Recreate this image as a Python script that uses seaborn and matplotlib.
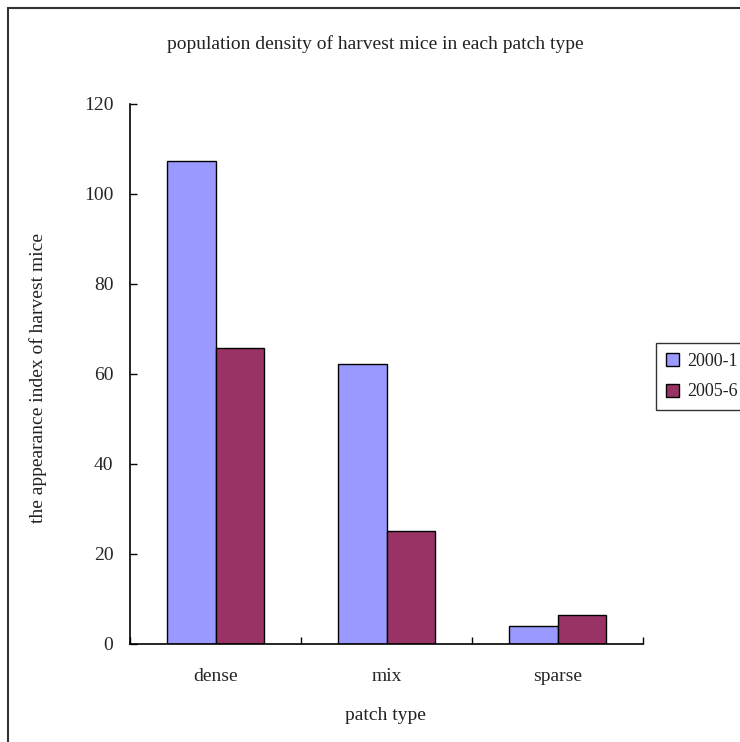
import numpy as np
import pandas as pd
import matplotlib
matplotlib.use("Agg")
import matplotlib.pyplot as plt
from matplotlib.patches import Rectangle
from matplotlib.ticker import FixedLocator
import seaborn as sns

# values
patch_types = ["dense", "mix", "sparse"]
years = ["2000-1", "2005-6"]
index_2000 = [107.3, 62.2, 4.0]
index_2005 = [65.7, 25.2, 6.5]
y_ticks = [0, 20, 40, 60, 80, 100, 120]
colors = ["#9999FF", "#993366"]

df = pd.DataFrame({
    "patch type": patch_types * 2,
    "index": index_2000 + index_2005,
    "year": [years[0]] * 3 + [years[1]] * 3,
})

sns.set_style("white")
plt.rcParams["font.family"] = ["Liberation Serif", "DejaVu Serif"]
plt.rcParams["text.color"] = "#222222"
fs = 14

fig = plt.figure(figsize=(7.4, 7.42), dpi=100)
ax = fig.add_axes([130 / 740, 1 - 644 / 742, 513 / 740, 540 / 742])

sns.barplot(data=df, x="patch type", y="index", hue="year", order=patch_types,
            hue_order=years, palette=colors, width=0.57, edgecolor="black",
            linewidth=1.0, saturation=1, ax=ax)

ax.set_xlim(-0.5, 2.5)
ax.set_ylim(0, 120)
ax.set_yticks(y_ticks)
ax.xaxis.set_minor_locator(FixedLocator([-0.5, 0.5, 1.5, 2.5]))
ax.tick_params(axis="x", which="major", bottom=True, length=0, pad=17, labelsize=fs)
ax.tick_params(axis="x", which="minor", bottom=True, direction="in", length=5, width=1,
               color="black")
ax.tick_params(axis="y", left=True, direction="in", length=5, width=1, color="black",
               pad=12, labelsize=fs)
for s in ["top", "right"]:
    ax.spines[s].set_visible(False)
for s in ["left", "bottom"]:
    ax.spines[s].set_color("black")
    ax.spines[s].set_linewidth(1.2)

ax.set_xlabel("")
ax.set_ylabel("")
fig.text(375 / 740, 1 - 44 / 742, "population density of harvest mice in each patch type",
         ha="center", va="center", fontsize=fs)
fig.text(385 / 740, 1 - 715 / 742, "patch type", ha="center", va="center", fontsize=fs)
fig.text(38 / 740, 1 - 378 / 742, "the appearance index of harvest mice", ha="center",
         va="center", rotation=90, fontsize=fs)

leg = ax.legend(loc="upper left", bbox_to_anchor=(656 / 740, 1 - 343 / 742),
                bbox_transform=fig.transFigure, frameon=True, fancybox=False,
                fontsize=13, handlelength=0.75, handleheight=0.75, handletextpad=0.45,
                borderpad=0.55, labelspacing=0.75, borderaxespad=0)
leg.get_frame().set_edgecolor("black")
leg.get_frame().set_linewidth(1.0)

# outer chart-area border, cut off at the right and bottom edges
fig.patches.append(Rectangle((8 / 740, -0.05), 1.1, 1 - 8 / 742 + 0.05,
                             transform=fig.transFigure, fill=False,
                             edgecolor="#333333", linewidth=1.5))

fig.savefig("out.png", dpi=100)
